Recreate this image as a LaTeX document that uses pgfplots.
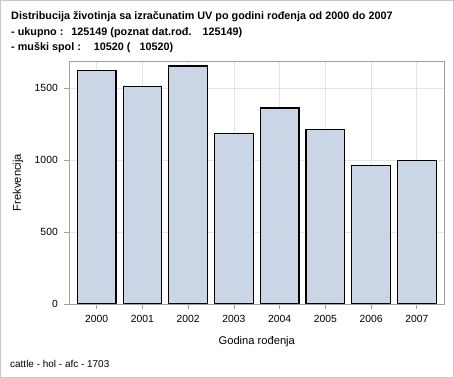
\documentclass[border=0pt]{standalone}
\usepackage{fontspec}
\setmainfont{Liberation Sans}
\usepackage{pgfplots}
\pgfplotsset{compat=1.18}
\definecolor{barfill}{HTML}{CAD5E5}
\definecolor{axgrey}{HTML}{A0A0A0}
\definecolor{gridgrey}{HTML}{E4E4E4}
\definecolor{framegrey}{HTML}{C8C8C8}
\begin{document}
\begin{tikzpicture}
\draw[framegrey, line width=1bp] (0.5bp,0.5bp) rectangle (453.5bp,377.5bp);
\begin{axis}[at={(69.3bp,74bp)}, anchor=south west, scale only axis,
  width=375bp, height=243bp,
  xmin=-0.6, xmax=7.6, ymin=0, ymax=1690,
  xtick={0,1,2,3,4,5,6,7},
  xticklabels={2000,2001,2002,2003,2004,2005,2006,2007},
  ytick={0,500,1000,1500},
  /pgf/number format/assume math mode=true,
  /pgf/number format/1000 sep={},
  ticklabel style={font=\fontsize{10.4}{12}\selectfont},
  xticklabel style={yshift=-3bp},
  yticklabel style={xshift=-3bp},
  grid=major, major grid style={gridgrey, line width=0.8bp},
  axis line style={axgrey, line width=0.8bp},
  tick style={axgrey, line width=0.8bp}, tick align=outside, major tick length=5bp,
  tick pos=left,
  ybar, bar width=0.845, bar shift=0,
]
\addplot[fill=barfill, draw=black, line width=1.2bp] coordinates {
(0,1625) (1,1510) (2,1655) (3,1183) (4,1363) (5,1212) (6,962) (7,1000)};
\end{axis}
\node[anchor=base, font=\fontsize{11.2}{13}\selectfont] at (256.8bp,34bp) {Godina rođenja};
\node[anchor=center, rotate=90, font=\fontsize{11.2}{13}\selectfont] at (18bp,195.5bp) {Frekvencija};
\begin{scope}[every node/.style={anchor=base west, inner sep=0pt, font=\fontsize{10.85}{12}\selectfont\bfseries}]
\node at (11bp,358bp) {Distribucija životinja sa izračunatim UV po godini rođenja od 2000 do 2007};
\node at (11bp,342.5bp) {- ukupno :\hspace{8bp}125149 (poznat dat.rođ.\hspace{11bp}125149)};
\node at (11bp,327.5bp) {- muški spol :\hspace{13bp}10520 (\hspace{9bp}10520)};
\end{scope}
\node[anchor=base west, inner sep=0pt, font=\fontsize{10}{11}\selectfont] at (10bp,11bp) {cattle - hol - afc - 1703};
\end{tikzpicture}
\end{document}
